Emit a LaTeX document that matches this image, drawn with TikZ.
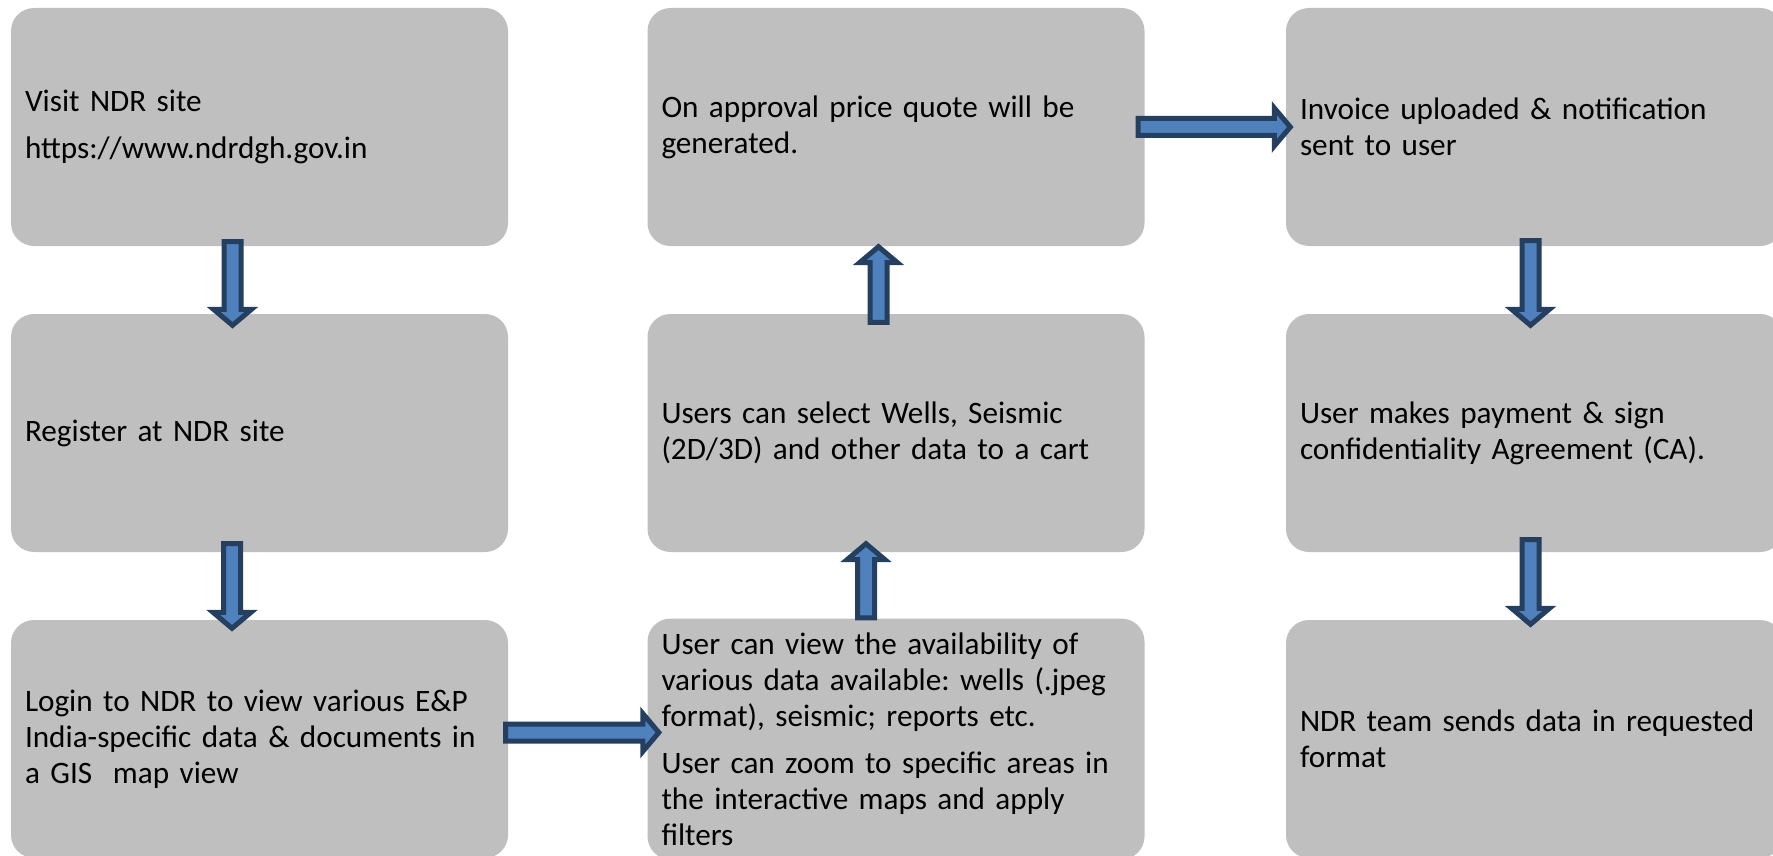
\documentclass[tikz,border=0pt]{standalone}
\usepackage{fontspec}
\setmainfont{Carlito}
\usetikzlibrary{calc}
\definecolor{boxgray}{HTML}{BFBFBF}
\definecolor{arrowfill}{HTML}{4F81BD}
\definecolor{arrowborder}{HTML}{243F60}
\newcommand\boxfont{\fontsize{31.2}{36}\selectfont\frenchspacing}
\tikzset{
  stepbox/.style={rectangle, rounded corners=23pt, fill=boxgray, draw=none,
    minimum width=497pt, minimum height=238pt, text width=469pt,
    inner sep=14pt, align=left, font=\boxfont, text=black},
  blockarrow/.style={draw=arrowborder, fill=arrowfill, line width=5pt,
    line join=miter, miter limit=10,
    to path={
      let \p1=($(\tikztotarget)!16pt!(\tikztostart)$) in
      ($(\tikztostart)!8.5pt!90:(\tikztotarget)$) --
      ($(\p1)!8.5pt!-90:(\tikztostart)$) --
      ($(\p1)!19pt!-90:(\tikztostart)$) --
      (\tikztotarget) --
      ($(\p1)!19pt!90:(\tikztostart)$) --
      ($(\p1)!8.5pt!90:(\tikztostart)$) --
      ($(\tikztostart)!8.5pt!-90:(\tikztotarget)$) -- cycle
    }}
}
\begin{document}
\begin{tikzpicture}[x=1pt,y=-1pt]
\useasboundingbox (0,0) rectangle (1773,856);
\clip (0,0) rectangle (1773,856);

% column 1
\node[stepbox] (A) at (259.5,127) {Visit NDR site\\[11pt]https://www.ndrdgh.gov.in};
\node[stepbox] (B) at (259.5,433) {Register at NDR site};
\node[stepbox] (C) at (259.5,739) {Login to NDR to view various E\&P\\India-specific data \& documents in\\a GIS~ map view};
% column 2
\node[stepbox] (D) at (896,127) {On approval price quote will be\\generated.};
\node[stepbox] (E) at (896,433) {Users can select Wells, Seismic\\(2D/3D) and other data to a cart};
\node[stepbox] (F) at (896,739) {User can view the availability of\\various data available: wells (.jpeg\\format), seismic; reports etc.\\[11pt]User can zoom to specific areas in\\the interactive maps and apply\\filters};
% column 3
\node[stepbox] (G) at (1534.5,127) {Invoice uploaded \& notification\\sent to user};
\node[stepbox] (H) at (1534.5,433) {User makes payment \& sign\\confidentiality Agreement (CA).};
\node[stepbox] (I) at (1534.5,739) {NDR team sends data in requested\\format};

% arrow end points
\coordinate (a1s) at ($(A.south)+(-27,-4.5)$);
\coordinate (a1e) at ($(B.north)+(-27,11.5)$);
\coordinate (a2s) at ($(B.south)+(-27.5,-8.5)$);
\coordinate (a2e) at ($(C.north)+(-27.5,8.5)$);
\coordinate (a3s) at ($(C.east)+(-2.5,-6.5)$);
\coordinate (a3e) at ($(F.west)+(11.5,-6.5)$);
\coordinate (a4s) at ($(F.north)+(-30,-0.5)$);
\coordinate (a4e) at ($(E.south)+(-30,-8.5)$);
\coordinate (a5s) at ($(E.north)+(-17.5,8.5)$);
\coordinate (a5e) at ($(D.south)+(-17.5,0.5)$);
\coordinate (a6s) at ($(D.east)+(-6.5,0)$);
\coordinate (a6e) at ($(G.west)+(4.5,0)$);
\coordinate (a7s) at ($(G.south)+(-4,-5.5)$);
\coordinate (a7e) at ($(H.north)+(-4,11.5)$);
\coordinate (a8s) at ($(H.south)+(-4,-12.5)$);
\coordinate (a8e) at ($(I.north)+(-4,4.5)$);

\draw[blockarrow] (a1s) to (a1e);
\draw[blockarrow] (a2s) to (a2e);
\draw[blockarrow] (a3s) to (a3e);
\draw[blockarrow] (a4s) to (a4e);
\draw[blockarrow] (a5s) to (a5e);
\draw[blockarrow] (a6s) to (a6e);
\draw[blockarrow] (a7s) to (a7e);
\draw[blockarrow] (a8s) to (a8e);
\end{tikzpicture}
\end{document}
